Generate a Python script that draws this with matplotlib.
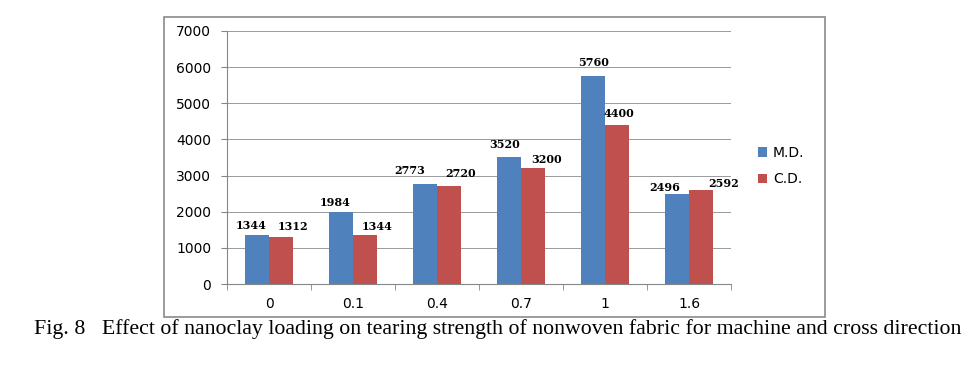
import matplotlib.pyplot as plt
import numpy as np
from matplotlib.patches import Rectangle

# data
loading = ['0', '0.1', '0.4', '0.7', '1', '1.6']
md = [1344, 1984, 2773, 3520, 5760, 2496]
cd = [1312, 1344, 2720, 3200, 4400, 2592]

# label nudges in pixels (dx, dy above the bar top), as the labels sit in the picture
md_off = [(-6, 10), (-6, 10), (-16, 13), (-5, 12), (0, 13), (-13, 6)]
cd_off = [(12, 10), (12, 9), (12, 12), (14, 9), (2, 11), (23, 7)]

blue = '#4F81BD'
red = '#C0504D'
W, H = 971, 369

fig = plt.figure(figsize=(W / 100, H / 100), dpi=100)
fig.patch.set_facecolor('white')

# outer chart box
fig.patches.append(Rectangle((164 / W, 1 - 317 / H), (825 - 164) / W, (317 - 17) / H,
                             transform=fig.transFigure, fill=False,
                             edgecolor='#8a8a8a', linewidth=1.2))

ax = fig.add_axes([227 / W, 1 - 284 / H, (731 - 227) / W, (284 - 31) / H])
x = np.arange(len(loading))
bw = 0.28
b1 = ax.bar(x - bw / 2, md, bw, color=blue, label='M.D.')
b2 = ax.bar(x + bw / 2, cd, bw, color=red, label='C.D.')

for bars, vals, offs in ((b1, md, md_off), (b2, cd, cd_off)):
    for b, v, (dx, dy) in zip(bars, vals, offs):
        ax.annotate(str(v), (b.get_x() + b.get_width() / 2, v),
                    xytext=(dx, dy), textcoords='offset pixels',
                    ha='center', va='center', fontsize=8,
                    family='DejaVu Serif', fontweight='bold', color='black')

ax.set_xlim(-0.5, len(loading) - 0.5)
ax.set_ylim(0, 7000)
ax.set_yticks(np.arange(0, 7001, 1000))
ax.set_xticks(x)
ax.set_xticklabels(loading)
ax.set_xticks(np.arange(-0.5, len(loading), 1), minor=True)
ax.tick_params(axis='x', which='major', length=0, pad=9, labelsize=10)
ax.tick_params(axis='x', which='minor', length=4, color='#868686', direction='out')
ax.tick_params(axis='y', length=4.3, pad=7, labelsize=10, color='#868686')

ax.yaxis.grid(True, color='#9a9a9a', linewidth=0.7)
ax.set_axisbelow(True)
for s in ('top', 'right'):
    ax.spines[s].set_visible(False)
ax.spines['left'].set_color('#868686')
ax.spines['bottom'].set_color('#868686')

fig.legend(handles=[b1, b2], loc='center left',
           bbox_to_anchor=(745 / W, 1 - 166 / H), frameon=False,
           fontsize=10, handlelength=0.7, handleheight=0.7,
           handletextpad=0.4, labelspacing=0.9)

cap = fig.text(0.5 * (31 + 965) / W, 1 - 329 / H,
               'Fig. 8   Effect of nanoclay loading on tearing strength of nonwoven fabric for machine and cross direction',
               ha='center', va='center', family='Liberation Serif', fontsize=15)
fig.canvas.draw()
w = cap.get_window_extent().width
cap.set_fontsize(15 * 934 / w)

fig.savefig('out.png', dpi=100)
